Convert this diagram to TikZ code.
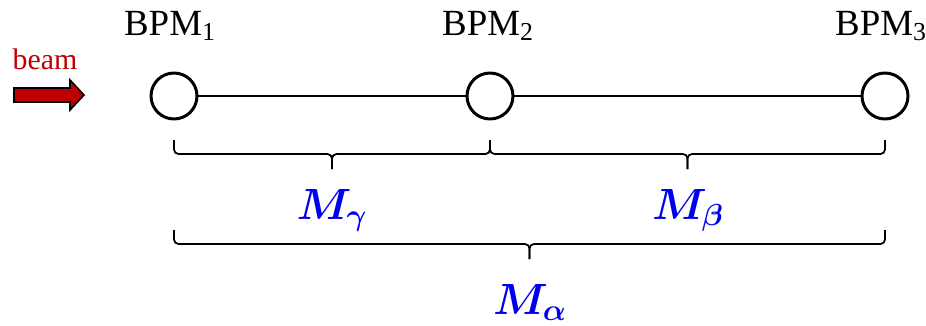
\documentclass[tikz,border=0pt]{standalone}
\usepackage{amsmath,amssymb,bm}
\usepackage{fontspec}
\setmainfont{Liberation Serif}
\definecolor{beamred}{RGB}{192,0,0}
\definecolor{labelblue}{RGB}{0,0,240}

\begin{document}
\begin{tikzpicture}[x=0.02cm, y=-0.02cm,
	bpm/.style={circle, draw, line width=1.7pt, minimum size=9.2mm, inner sep=0pt},
	bpmlabel/.style={anchor=base, font=\fontsize{21}{25}\selectfont},
	brace/.style={line width=1pt, rounded corners=0.9mm},
	mlabel/.style={anchor=base, text=labelblue, font=\fontsize{24}{29}\selectfont}]
	\useasboundingbox (0,0) rectangle (926,325);
	% Các monitor vị trí chùm
	\node[bpm] (bpmA) at (174,96) {};
	\node[bpm] (bpmB) at (490,96) {};
	\node[bpm] (bpmC) at (885,96) {};
	\draw[line width=0.8pt] (bpmA) -- (bpmB);
	\draw[line width=0.8pt] (bpmB) -- (bpmC);
	% Nhãn BPM
	\node[bpmlabel] (labA) at (170,35) {BPM\textsubscript{1}};
	\node[bpmlabel] (labB) at (488,35) {BPM\textsubscript{2}};
	\node[bpmlabel] (labC) at (881,35) {BPM\textsubscript{3}};
	% Mũi tên chùm hạt
	\draw[fill=beamred, line width=0.9pt] (14,88) -- (70,88) -- (70,80) -- (84,95) -- (70,110) -- (70,102) -- (14,102) -- cycle;
	\node[anchor=base, text=beamred, font=\fontsize{17}{20}\selectfont] (beam) at (45,69) {beam};
	% Các dấu ngoặc (đầu trái / đầu phải / mép trên)
	\foreach \a/\b/\t in {174/490/140, 490/885/140, 174/885/230} {
		\draw[brace] (\a,\t) -- (\a,\t+14) -- ({(\a+\b)/2},\t+14) -- ({(\a+\b)/2},\t+29);
		\draw[brace] (\b,\t) -- (\b,\t+14) -- ({(\a+\b)/2},\t+14) -- ({(\a+\b)/2},\t+29);
	}
	% Nhãn ma trận truyền
	\node[mlabel] (mg) at (332,219) {$\bm{M_{\gamma}}$};
	\node[mlabel] (mb) at (688,219) {$\bm{M_{\beta}}$};
	\node[mlabel] (ma) at (530,314) {$\bm{M_{\alpha}}$};
\end{tikzpicture}
\end{document}
